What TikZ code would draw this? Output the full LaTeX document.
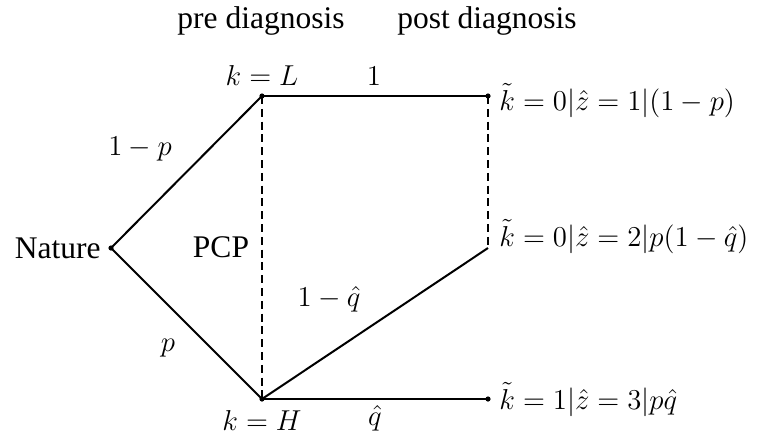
\documentclass[tikz,border=0pt]{standalone}
\usepackage{fontspec}
\setmainfont{Liberation Serif}
\begin{document}
\begin{tikzpicture}[x=0.5pt,y=-0.5pt,
  every node/.style={inner sep=0pt,font=\fontsize{15.75}{19}\selectfont},
  edge/.style={line width=1pt},
  dashedge/.style={line width=0.9pt,dash pattern=on 4pt off 2.4pt},
  dot/.style={circle,fill=black,inner sep=0pt,minimum size=2.6pt}]
\useasboundingbox (0,0) rectangle (776,441);
% points
\node[dot] (N) at (111,248) {};
\node[dot] (L) at (262,96) {};
\node[dot] (H) at (262,399) {};
\node[dot] (R1) at (488,96) {};
\coordinate (R2) at (488,248);
\node[dot] (R3) at (488,399) {};
% edges
\draw[edge] (N.center) -- (L.center);
\draw[edge] (N.center) -- (H.center);
\draw[edge] (L.center) -- (R1.center);
\draw[edge] (H.center) -- (R2);
\draw[edge] (H.center) -- (R3.center);
\draw[dashedge] (L.center) -- (H.center);
\draw[dashedge] (R1.center) -- (R2);
% headings
\node[anchor=base] (pre) at (261,28) {pre diagnosis};
\node[anchor=base] (post) at (487,28) {post diagnosis};
% labels
\node[anchor=base] (kL) at (262,85) {$k=L$};
\node[anchor=base] (kH) at (262,430) {$k=H$};
\node[anchor=base] (one) at (374,85) {$1$};
\node[anchor=base] (omp) at (140,155) {$1-p$};
\node[anchor=base] (p) at (168,351) {$p$};
\node[anchor=east] (nat) at (101,248) {Nature};
\node[anchor=base] (pcp) at (221,257) {PCP};
\node[anchor=base] (omq) at (329,306) {$1-\hat q$};
\node[anchor=base] (q) at (375,425) {$\hat q$};
\node[anchor=base west] (o1) at (499,110) {$\tilde k=0|\hat z=1|(1-p)$};
\node[anchor=base west] (o2) at (499,246) {$\tilde k=0|\hat z=2|p(1-\hat q)$};
\node[anchor=base west] (o3) at (499,409) {$\tilde k=1|\hat z=3|p\hat q$};
\end{tikzpicture}
\end{document}
